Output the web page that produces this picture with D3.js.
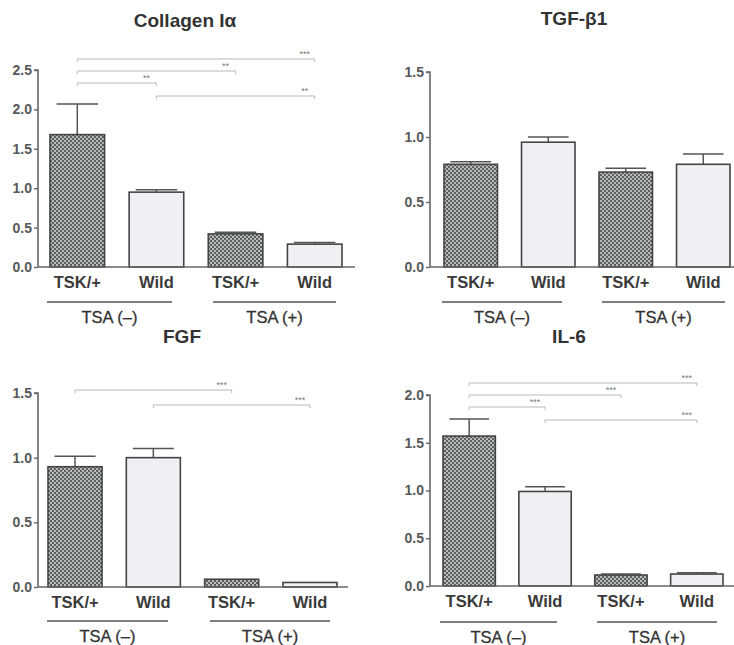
<!DOCTYPE html>
<html>
<head>
<meta charset="utf-8">
<script src="https://cdn.jsdelivr.net/npm/d3@7"></script>
<style>
  html, body { margin: 0; padding: 0; background: #ffffff; }
  svg { display: block; }
  text { font-family: "Liberation Sans", Arial, Helvetica, sans-serif; }
</style>
</head>
<body>
<svg id="chart" width="734" height="645"></svg>
<script>
// Bar categories and grouping
const categories = ["TSK/+", "Wild", "TSK/+", "Wild"];
const groups = ["TSA (\u2013)", "TSA (+)"];

// Relative expression (mean and upper error bar) per panel
const collagenMeans = [1.68, 0.95, 0.42, 0.29];
const collagenErr   = [0.39, 0.03, 0.02, 0.02];
const tgfMeans = [0.79, 0.96, 0.73, 0.79];
const tgfErr   = [0.02, 0.04, 0.03, 0.08];
const fgfMeans = [0.93, 1.00, 0.06, 0.035];
const fgfErr   = [0.08, 0.07, 0.00, 0.00];
const il6Means = [1.57, 0.99, 0.115, 0.125];
const il6Err   = [0.18, 0.05, 0.01, 0.015];

// Y tick labels per panel
const collagenTicks = [0, 0.5, 1.0, 1.5, 2.0, 2.5];
const tgfTicks = [0, 0.5, 1.0, 1.5];
const fgfTicks = [0, 0.5, 1.0, 1.5];
const il6Ticks = [0, 0.5, 1.0, 1.5, 2.0];

// Significance brackets: [from bar, to bar, label]
const collagenSig = [[0, 3, "***"], [0, 2, "**"], [0, 1, "**"], [1, 3, "**"]];
const fgfSig = [[0, 2, "***"], [1, 3, "***"]];
const il6Sig = [[0, 3, "***"], [0, 2, "***"], [0, 1, "***"], [1, 3, "***"]];

const svg = d3.select("#chart");

// Checkered fill for the TSK/+ bars
const defs = svg.append("defs");
const pat = defs.append("pattern")
  .attr("id", "checker").attr("patternUnits", "userSpaceOnUse")
  .attr("width", 4).attr("height", 4);
pat.append("rect").attr("width", 4).attr("height", 4).attr("fill", "#5c5f60");
pat.append("rect").attr("x", 0).attr("y", 0).attr("width", 2).attr("height", 2).attr("fill", "#b9bcbd");
pat.append("rect").attr("x", 2).attr("y", 2).attr("width", 2).attr("height", 2).attr("fill", "#b9bcbd");

const panels = [
  { title: "Collagen I\u03b1", means: collagenMeans, err: collagenErr, ticks: collagenTicks, sig: collagenSig,
    axisX: 38, y0: 267, yTop: 70, yMax: 2.5, barL: 50, barR: 342, axisEnd: 355,
    titleX: 185, titleY: 27, sigY: [59, 71, 83, 96],
    groupLines: [[47, 172], [213, 336]], groupLineY: 302 },
  { title: "TGF-\u03b21", means: tgfMeans, err: tgfErr, ticks: tgfTicks, sig: [],
    axisX: 430, y0: 267, yTop: 72, yMax: 1.5, barL: 444, barR: 730, axisEnd: 734,
    titleX: 574, titleY: 25, sigY: [],
    groupLines: [[442, 562], [602, 725]], groupLineY: 302 },
  { title: "FGF", means: fgfMeans, err: fgfErr, ticks: fgfTicks, sig: fgfSig,
    axisX: 38, y0: 587, yTop: 393, yMax: 1.5, barL: 48, barR: 337, axisEnd: 348,
    titleX: 182, titleY: 343, sigY: [390, 405],
    groupLines: [[47, 168], [210, 330]], groupLineY: 621 },
  { title: "IL-6", means: il6Means, err: il6Err, ticks: il6Ticks, sig: il6Sig,
    axisX: 430, y0: 586, yTop: 395, yMax: 2.0, barL: 443, barR: 723, axisEnd: 734,
    titleX: 569, titleY: 343, sigY: [383, 395, 407, 420],
    groupLines: [[440, 557], [597, 717]], groupLineY: 622 }
];

panels.forEach(p => {
  const g = svg.append("g");
  const y = d3.scaleLinear().domain([0, p.yMax]).range([p.y0, p.yTop]);
  const x = d3.scaleBand().domain(d3.range(categories.length))
    .range([p.barL, p.barR]).paddingInner(0.31).paddingOuter(0);

  // Title
  g.append("text").attr("x", p.titleX).attr("y", p.titleY)
    .attr("text-anchor", "middle").attr("font-size", 19).attr("font-weight", "bold")
    .attr("fill", "#333").text(p.title);

  // Y axis
  const yAxis = d3.axisLeft(y).tickValues(p.ticks).tickFormat(d3.format(".1f"))
    .tickSize(4).tickPadding(2);
  const ya = g.append("g").attr("transform", `translate(${p.axisX},0)`).call(yAxis);
  ya.select(".domain").attr("stroke", "#666").attr("stroke-width", 1.6)
    .attr("d", `M-4,${y(p.yMax)}H0V${p.y0}`);
  ya.selectAll(".tick line").attr("stroke", "#666").attr("stroke-width", 1.4);
  ya.selectAll(".tick text").attr("font-size", 14).attr("font-weight", "bold")
    .attr("fill", "#585858").attr("font-family", "'Liberation Sans', Arial, sans-serif");

  // Error bars (upper whisker only)
  const capW = x.bandwidth() * 0.38;
  p.means.forEach((m, i) => {
    if (p.err[i] <= 0) return;
    const cx = x(i) + x.bandwidth() / 2;
    g.append("line").attr("x1", cx).attr("x2", cx)
      .attr("y1", y(m)).attr("y2", y(m + p.err[i]))
      .attr("stroke", "#555").attr("stroke-width", 1.5);
    g.append("line").attr("x1", cx - capW).attr("x2", cx + capW)
      .attr("y1", y(m + p.err[i])).attr("y2", y(m + p.err[i]))
      .attr("stroke", "#555").attr("stroke-width", 1.5);
  });

  // Bars
  g.selectAll("rect.bar").data(p.means).join("rect").attr("class", "bar")
    .attr("x", (d, i) => x(i)).attr("width", x.bandwidth())
    .attr("y", d => y(d)).attr("height", d => p.y0 - y(d))
    .attr("fill", (d, i) => i % 2 === 0 ? "url(#checker)" : "#eef0f4")
    .attr("stroke", "#444").attr("stroke-width", 1.6);

  // X axis baseline
  g.append("line").attr("x1", p.axisX).attr("x2", p.axisEnd)
    .attr("y1", p.y0).attr("y2", p.y0).attr("stroke", "#666").attr("stroke-width", 1.6);

  // Category labels
  g.selectAll("text.cat").data(categories).join("text").attr("class", "cat")
    .attr("x", (d, i) => x(i) + x.bandwidth() / 2).attr("y", p.y0 + 21)
    .attr("text-anchor", "middle").attr("font-size", 16.5).attr("font-weight", "bold")
    .attr("fill", "#3a3a3a").text(d => d);

  // Group underlines and labels
  p.groupLines.forEach((gl, k) => {
    g.append("line").attr("x1", gl[0]).attr("x2", gl[1])
      .attr("y1", p.groupLineY).attr("y2", p.groupLineY)
      .attr("stroke", "#555").attr("stroke-width", 1.6);
    g.append("text").attr("x", (gl[0] + gl[1]) / 2).attr("y", p.groupLineY + 21)
      .attr("text-anchor", "middle").attr("font-size", 16.5).attr("fill", "#333")
      .attr("stroke", "#333").attr("stroke-width", 0.3)
      .text(groups[k]);
  });

  // Significance brackets
  p.sig.forEach((s, k) => {
    const x1 = x(s[0]) + x.bandwidth() / 2;
    const x2 = x(s[1]) + x.bandwidth() / 2;
    const yy = p.sigY[k];
    g.append("path")
      .attr("d", `M${x1},${yy + 3}V${yy}H${x2}V${yy + 3}`)
      .attr("fill", "none").attr("stroke", "#b8b8b8").attr("stroke-width", 1);
    g.append("text").attr("x", x2 - 10).attr("y", yy - 2)
      .attr("text-anchor", "middle").attr("font-size", 9).attr("fill", "#7a7a7a")
      .text(s[2]);
  });
});
</script>
</body>
</html>
